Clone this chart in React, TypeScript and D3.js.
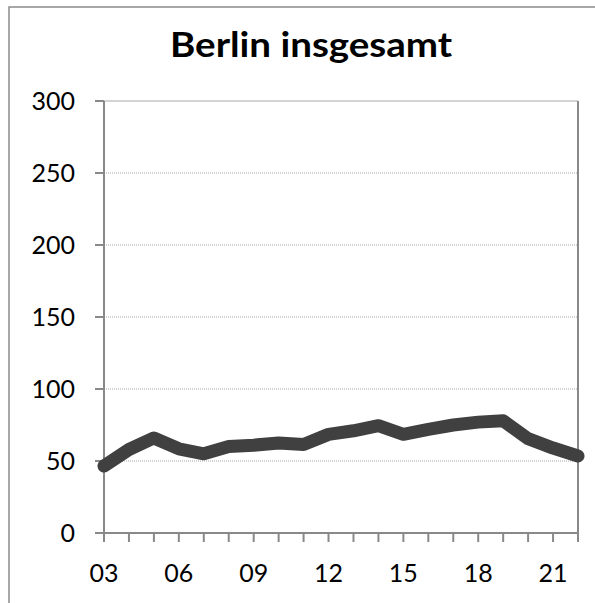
import React from "react";
import * as d3 from "d3";

const years = ["03","04","05","06","07","08","09","10","11","12","13","14","15","16","17","18","19","20","21","22"];
const values = [46.5,58,66,58.5,55,60,61,62.5,61.5,68.5,71,74.5,68.5,72,75,77,78,65.5,59,53.5];
const yTicks = [0,50,100,150,200,250,300];
const xLabelYears = ["03","06","09","12","15","18","21"];
const title = "Berlin insgesamt";

export default function App() {
  const W = 595, H = 603;
  const left = 104, right = 578, top = 101, bottom = 533;
  const x = d3.scalePoint<string>().domain(years).range([left, right]).padding(0);
  const y = d3.scaleLinear().domain([0, 300]).range([bottom, top]);
  const line = d3.line<number>().x((_, i) => x(years[i]) as number).y((d) => y(d));
  const font = "Lato, 'Open Sans', sans-serif";
  const axisColor = "#898989";
  return (
    <svg width={W} height={H} style={{ position: "absolute", left: 0, top: 0 }}>
      <rect x={0} y={0} width={W} height={H} fill="#fff" />
      <rect x={9} y={7} width={620} height={640} fill="none" stroke="#8c8c8c" strokeWidth={1.5} />
      <text x={311} y={57} textAnchor="middle" fontFamily={font} fontWeight="bold" fontSize={35} fill="#000" textLength={282} lengthAdjust="spacingAndGlyphs">{title}</text>
      {yTicks.filter((t) => t > 0 && t < 300).map((t) => (
        <line key={"g" + t} x1={left} x2={right} y1={y(t)} y2={y(t)} stroke="#a8a8a8" strokeWidth={1} strokeDasharray="1,1" />
      ))}
      <line x1={left} x2={right} y1={y(300)} y2={y(300)} stroke="#a8a8a8" strokeWidth={1.2} />
      <line x1={right} x2={right} y1={top} y2={bottom} stroke={axisColor} strokeWidth={2} />
      {yTicks.map((t) => (
        <g key={"y" + t}>
          <line x1={left - 9} x2={left} y1={y(t)} y2={y(t)} stroke={axisColor} strokeWidth={2} />
          <text x={75} y={y(t)} dy="0.35em" textAnchor="end" fontFamily={font} fontSize={25} fill="#000">{t}</text>
        </g>
      ))}
      {years.map((yr) => (
        <line key={"xt" + yr} x1={x(yr)} x2={x(yr)} y1={bottom} y2={bottom + 9} stroke={axisColor} strokeWidth={2} />
      ))}
      {xLabelYears.map((yr) => (
        <text key={"xl" + yr} x={x(yr)} y={582} textAnchor="middle" fontFamily={font} fontSize={25} fill="#000">{yr}</text>
      ))}
      <line x1={left} x2={left} y1={top} y2={bottom} stroke={axisColor} strokeWidth={2} />
      <line x1={left} x2={right} y1={bottom} y2={bottom} stroke={axisColor} strokeWidth={2} />
      <path d={line(values) ?? ""} fill="none" stroke="#404040" strokeWidth={13} strokeLinejoin="round" strokeLinecap="round" />
    </svg>
  );
}
